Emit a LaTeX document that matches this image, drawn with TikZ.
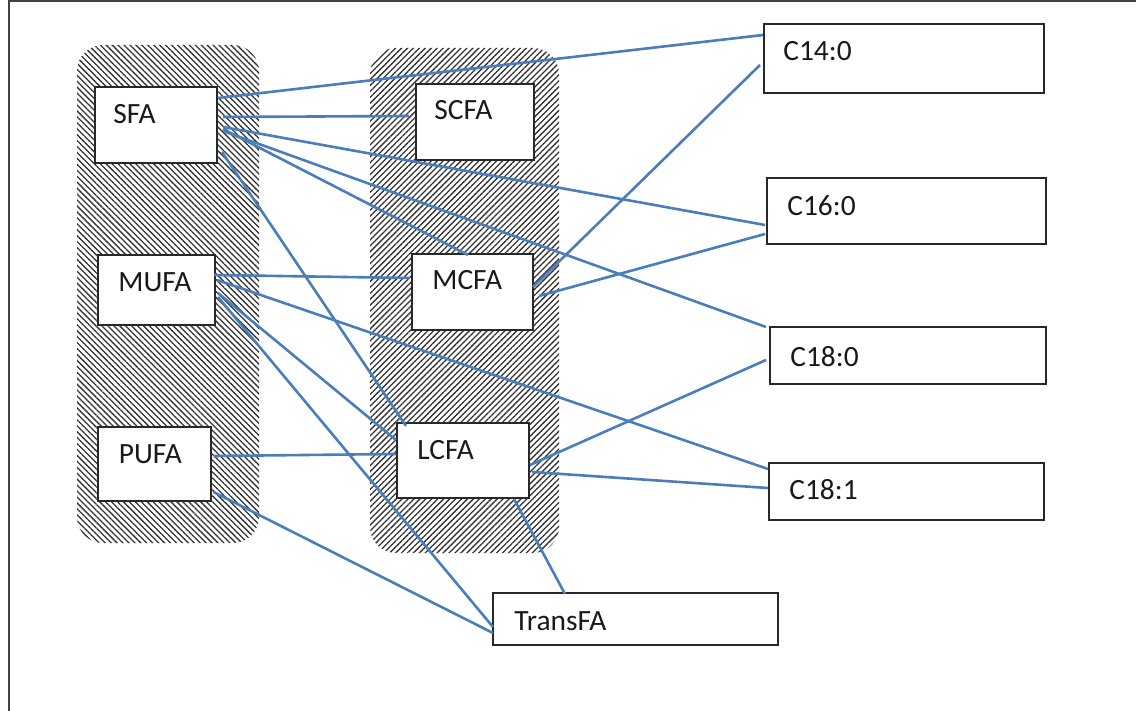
\documentclass[tikz,border=0pt]{standalone}
\usepackage{fontspec}
\setmainfont{Carlito}
\usetikzlibrary{calc,patterns.meta}
\definecolor{conn}{RGB}{74,126,187}
\definecolor{boxline}{RGB}{40,40,40}
\tikzset{
  box/.style={draw=boxline,line width=1pt,fill=white,rectangle,outer sep=0pt,inner sep=0pt},
  grp/.style={rectangle,rounded corners=13pt,outer sep=0pt,inner sep=0pt},
  hatchL/.style={grp,pattern={Lines[angle=-45,distance=2.1pt,line width=0.65pt]},pattern color=black!80},
  hatchR/.style={grp,pattern={Lines[angle=45,distance=2.1pt,line width=0.65pt]},pattern color=black!80},
  lbl/.style={inner sep=0pt,anchor=base west,font=\fontsize{14.7}{17}\selectfont,text=black!90},
  cn/.style={draw=conn,line width=1.3pt},
  frameline/.style={draw=black!75,line width=1pt}
}
\begin{document}
\begin{tikzpicture}[x=0.5pt,y=-0.5pt]
\useasboundingbox (0,0) rectangle (1136,711);
% frame
\coordinate (fbl) at (9,712);
\coordinate (ftl) at (9,1);
\coordinate (ftr) at (1137,1);
\draw[frameline] (fbl) -- (ftl) -- (ftr);
% hatched groups
\node[hatchL,minimum width=182*0.5pt,minimum height=498*0.5pt] (g1) at (168,294) {};
\node[hatchR,minimum width=189*0.5pt,minimum height=505*0.5pt] (g2) at (464.5,300.5) {};
% boxes
\node[box,minimum width=122*0.5pt,minimum height=76*0.5pt] (sfa) at (156,125) {};
\node[box,minimum width=117*0.5pt,minimum height=70*0.5pt] (mufa) at (156.5,290) {};
\node[box,minimum width=113*0.5pt,minimum height=74*0.5pt] (pufa) at (154,464) {};
\node[box,minimum width=118*0.5pt,minimum height=76*0.5pt] (scfa) at (475,122) {};
\node[box,minimum width=121*0.5pt,minimum height=76*0.5pt] (mcfa) at (472.5,292) {};
\node[box,minimum width=132*0.5pt,minimum height=75*0.5pt] (lcfa) at (463,460.5) {};
\node[box,minimum width=285*0.5pt,minimum height=52*0.5pt] (trans) at (635.5,619) {};
\node[box,minimum width=280*0.5pt,minimum height=69*0.5pt] (c14) at (904,58.5) {};
\node[box,minimum width=279*0.5pt,minimum height=66*0.5pt] (c16) at (906.5,211) {};
\node[box,minimum width=276*0.5pt,minimum height=57*0.5pt] (c180) at (908,355.5) {};
\node[box,minimum width=275*0.5pt,minimum height=57*0.5pt] (c181) at (906.5,491.5) {};
% labels
\node[lbl] (tsfa) at ($(sfa.north west)+(18,37)$) {SFA};
\node[lbl] (tmufa) at ($(mufa.north west)+(20,37)$) {MUFA};
\node[lbl] (tpufa) at ($(pufa.north west)+(21,36)$) {PUFA};
\node[lbl] (tscfa) at ($(scfa.north west)+(18,36)$) {SCFA};
\node[lbl] (tmcfa) at ($(mcfa.north west)+(20,36)$) {MCFA};
\node[lbl] (tlcfa) at ($(lcfa.north west)+(20,36)$) {LCFA};
\node[lbl] (ttrans) at ($(trans.north west)+(21,37)$) {TransFA};
\node[lbl] (tc14) at ($(c14.north west)+(19,37)$) {C14:0};
\node[lbl] (tc16) at ($(c16.north west)+(20,38)$) {C16:0};
\node[lbl] (tc180) at ($(c180.north west)+(20,39)$) {C18:0};
\node[lbl] (tc181) at ($(c181.north west)+(20,36)$) {C18:1};
% connectors
\draw[cn] ($(sfa.north east)+(1,11)$) -- ($(c14.north west)+(-1,11)$);
\draw[cn] ($(sfa.north east)+(6,30)$) -- ($(scfa.north west)+(-7,32)$);
\draw[cn] ($(sfa.north east)+(6,40)$) -- ($(c16.north west)+(-2,47)$);
\draw[cn] ($(sfa.north east)+(6,42)$) -- ($(mcfa.north west)+(56,1)$);
\draw[cn] ($(sfa.north east)+(6,44)$) -- ($(c180.north west)+(-4,0)$);
\draw[cn] ($(sfa.north east)+(5,65)$) -- ($(lcfa.north west)+(9,3)$);
\draw[cn] ($(mufa.north east)+(-1,20)$) -- ($(mcfa.north west)+(-2,24)$);
\draw[cn] ($(mufa.north east)+(2,25)$) -- ($(c181.north west)+(-1,6)$);
\draw[cn] ($(mufa.north east)+(3,38)$) -- ($(lcfa.north west)+(-1,17)$);
\draw[cn] ($(mufa.north east)+(3,42)$) -- ($(trans.north west)+(0,34)$);
\draw[cn] ($(pufa.north east)+(3,29)$) -- ($(lcfa.north west)+(-1,31)$);
\draw[cn] ($(pufa.north east)+(3,65)$) -- ($(trans.north west)+(0,40)$);
\draw[cn] ($(lcfa.north east)+(1,42)$) -- ($(c180.north west)+(-4,33)$);
\draw[cn] ($(lcfa.north east)+(3,49)$) -- ($(c181.north west)+(-1,25)$);
\draw[cn] ($(lcfa.south west)+(117,1)$) -- ($(trans.north west)+(72,1)$);
\draw[cn] ($(mcfa.north east)+(0,33)$) -- ($(c14.north west)+(-4,41)$);
\draw[cn] ($(mcfa.north east)+(6,42)$) -- ($(c16.north west)+(-2,56)$);
\end{tikzpicture}
\end{document}
